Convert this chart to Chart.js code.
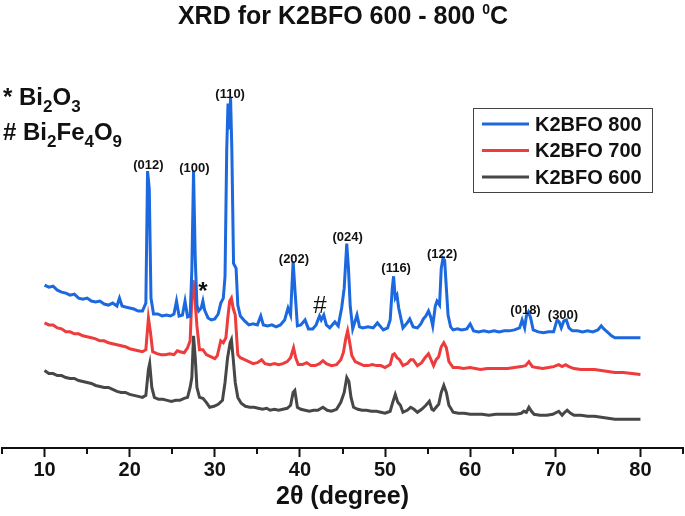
<!DOCTYPE html>
<html>
<head>
<meta charset="utf-8">
<script src="https://cdn.jsdelivr.net/npm/chart.js@4.4.1/dist/chart.umd.min.js"></script>
<style>
  html, body { margin: 0; padding: 0; background: #fff; }
  #wrap { width: 685px; height: 516px; }
</style>
</head>
<body>
<div id="wrap"><canvas id="xrdChart"></canvas></div>
<script>
// 2theta (deg), intensity (a.u., offset stacked)
const k2bfo800 = [
  [10.0,164],[10.5,162],[11.0,163],[11.5,159],[12.0,157],[12.5,156],[13.0,154],[13.5,155],[14.0,151],[14.5,150],
  [15.0,151],[15.5,148],[16.0,147],[16.5,148],[17.0,145],[17.5,144],[18.0,146],[18.5,143],[18.8,151],[19.1,143],
  [19.5,142],[20.0,141],[20.5,140],[21.0,138],[21.5,138],[21.9,146],[22.1,279],[22.3,261],[22.5,151],[22.8,135],
  [23.3,135],[23.8,133],[24.3,134],[24.8,133],[25.2,135],[25.5,148],[25.8,133],[26.2,134],[26.5,148],[26.8,132],
  [27.1,133],[27.3,179],[27.5,279],[27.7,191],[27.9,144],[28.1,138],[28.4,141],[28.6,148],[28.8,139],[29.2,131],
  [29.6,129],[30.0,130],[30.4,135],[30.7,146],[31.0,151],[31.2,173],[31.4,301],[31.55,347],[31.7,321],[31.85,353],
  [32.0,301],[32.2,186],[32.5,181],[32.7,144],[33.0,133],[33.5,128],[34.0,124],[34.5,125],[35.0,124],[35.4,133],
  [35.7,124],[36.2,123],[36.7,124],[37.2,122],[37.7,124],[38.2,129],[38.6,141],[38.9,134],[39.2,188],[39.4,161],
  [39.7,123],[40.1,124],[40.6,129],[41.0,120],[41.5,120],[41.9,124],[42.3,133],[42.5,129],[42.8,134],[43.1,124],
  [43.5,121],[44.1,127],[44.5,123],[44.9,141],[45.2,161],[45.5,206],[45.7,181],[45.9,144],[46.2,120],[46.7,134],
  [47.0,122],[47.4,121],[48.0,122],[48.6,121],[49.1,126],[49.5,122],[49.8,119],[50.3,121],[50.6,129],[50.85,161],
  [51.0,173],[51.2,151],[51.4,154],[51.6,141],[52.1,121],[52.6,126],[52.9,130],[53.3,122],[53.8,121],[54.2,125],
  [54.5,130],[54.8,133],[55.1,138],[55.4,131],[55.6,123],[55.9,143],[56.1,148],[56.4,144],[56.6,181],[56.8,191],
  [57.0,189],[57.2,161],[57.4,134],[57.7,122],[58.0,119],[58.5,120],[59.0,119],[59.6,120],[60.0,125],[60.4,118],
  [61.0,117],[61.6,118],[62.2,117],[62.8,118],[63.4,117],[64.0,118],[64.6,118],[65.2,119],[65.8,121],[66.1,129],
  [66.4,121],[66.6,133],[66.85,137],[67.1,131],[67.4,119],[68.0,117],[68.6,116],[69.2,117],[69.8,117],[70.2,129],
  [70.45,127],[70.7,121],[71.0,128],[71.3,129],[71.6,121],[72.0,118],[72.6,118],[73.2,117],[73.8,118],[74.4,117],
  [75.0,119],[75.4,123],[75.7,120],[76.1,117],[76.6,113],[77.0,111],[77.5,111],[78.5,111],[80.0,111]
];
const k2bfo700 = [
  [10.0,126],[10.5,124],[11.0,124],[11.5,121],[12.0,120],[12.5,117],[13.0,117],[13.5,115],[14.0,115],[14.5,113],
  [15.0,112],[15.5,111],[16.0,110],[16.5,108],[17.0,108],[17.5,106],[18.0,105],[18.5,104],[19.0,103],[19.5,102],
  [20.0,100],[20.5,99],[21.0,98],[21.5,97],[21.9,99],[22.2,131],[22.45,116],[22.7,97],[23.2,95],[23.7,94],
  [24.2,94],[24.7,95],[25.2,94],[25.6,98],[25.9,97],[26.4,96],[26.8,101],[27.1,108],[27.3,151],[27.45,169],
  [27.65,151],[27.9,123],[28.2,99],[28.6,99],[29.0,94],[29.5,92],[30.0,90],[30.3,93],[30.7,108],[31.0,106],
  [31.3,111],[31.55,133],[31.75,148],[31.95,151],[32.15,141],[32.4,134],[32.7,94],[33.0,91],[33.5,89],[34.0,87],
  [34.5,85],[35.0,86],[35.5,89],[35.9,85],[36.5,84],[37.0,85],[37.5,84],[38.0,85],[38.5,87],[38.9,91],
  [39.25,101],[39.5,91],[39.8,84],[40.3,84],[40.8,86],[41.3,83],[41.8,83],[42.3,85],[42.7,88],[43.1,85],
  [43.7,83],[44.3,84],[44.8,89],[45.1,96],[45.4,111],[45.6,118],[45.85,106],[46.1,93],[46.5,87],[47.0,85],
  [47.5,83],[48.0,83],[48.5,84],[49.0,83],[49.5,83],[50.0,81],[50.6,84],[50.9,94],[51.1,95],[51.4,91],
  [51.7,89],[52.1,83],[52.6,85],[53.0,89],[53.3,89],[53.8,83],[54.3,86],[54.7,91],[55.1,95],[55.5,87],
  [55.7,83],[56.0,89],[56.3,92],[56.6,102],[56.9,106],[57.2,101],[57.5,87],[58.0,81],[58.6,81],[59.2,80],
  [60.0,81],[60.6,80],[61.2,79],[62.0,80],[62.8,80],[63.6,80],[64.4,80],[65.2,81],[66.0,82],[66.5,83],
  [66.9,87],[67.3,82],[67.8,81],[68.5,80],[69.2,81],[69.8,82],[70.4,84],[70.8,82],[71.2,84],[71.6,82],
  [72.2,80],[73.0,79],[73.8,79],[74.6,79],[75.4,78],[76.2,77],[77.0,76],[78.0,76],[79.0,75],[80.0,74]
];
const k2bfo600 = [
  [10.0,78],[10.5,75],[11.0,75],[11.5,73],[12.0,73],[12.5,71],[13.0,70],[13.5,70],[14.0,68],[14.5,67],
  [15.0,66],[15.5,65],[16.0,63],[16.5,62],[17.0,61],[17.5,61],[18.0,59],[18.5,57],[19.0,56],[19.5,56],
  [20.0,54],[20.5,53],[21.0,52],[21.5,51],[21.9,53],[22.2,79],[22.35,85],[22.6,61],[22.9,51],[23.4,49],
  [23.9,49],[24.4,48],[24.9,47],[25.4,48],[25.9,48],[26.4,50],[26.8,51],[27.1,61],[27.3,71],[27.5,113],
  [27.7,91],[27.9,61],[28.2,51],[28.6,50],[29.0,46],[29.4,41],[29.9,42],[30.4,44],[30.9,48],[31.2,66],
  [31.5,91],[31.8,106],[31.95,109],[32.15,91],[32.4,66],[32.7,51],[33.1,45],[33.6,42],[34.1,41],[34.6,41],
  [35.1,40],[35.6,39],[36.1,40],[36.5,38],[37.0,39],[37.5,38],[38.0,39],[38.5,40],[38.9,43],[39.2,56],
  [39.4,58],[39.7,41],[40.1,39],[40.6,38],[41.1,37],[41.6,38],[42.1,38],[42.7,41],[43.2,38],[43.7,37],
  [44.3,39],[44.8,46],[45.2,56],[45.5,71],[45.75,67],[46.0,51],[46.3,41],[46.8,39],[47.3,38],[47.8,38],
  [48.4,37],[49.0,37],[49.5,36],[50.0,35],[50.6,37],[50.9,46],[51.2,54],[51.5,46],[51.8,43],[52.1,36],
  [52.6,38],[53.0,41],[53.4,39],[53.8,36],[54.3,39],[54.8,43],[55.2,47],[55.5,39],[55.7,38],[56.0,41],
  [56.3,44],[56.6,56],[56.9,63],[57.2,56],[57.5,43],[58.0,36],[58.6,35],[59.3,35],[60.0,34],[60.7,34],
  [61.4,34],[62.2,33],[63.0,34],[63.8,34],[64.6,34],[65.4,34],[66.0,35],[66.3,37],[66.6,36],[66.9,41],
  [67.2,37],[67.5,34],[68.2,33],[69.0,33],[69.7,34],[70.4,37],[70.8,33],[71.1,36],[71.4,38],[71.8,35],
  [72.2,33],[73.0,33],[73.8,32],[74.6,32],[75.4,31],[76.2,30],[77.0,29],[78.0,29],[80.0,29]
];

const seriesNames = ["K2BFO 800", "K2BFO 700", "K2BFO 600"];
const seriesColors = ["#1c68df", "#ee3b3b", "#474747"];

const xTicks = [10, 20, 30, 40, 50, 60, 70, 80];
const xMinorTicks = [5, 15, 25, 35, 45, 55, 65, 75, 85];

// peak indexing labels: 2theta, intensity of label centre
const peakNames = ["(012)", "(100)", "(110)", "(202)", "(024)", "(116)", "(122)", "(018)", "(300)"];
const peakTheta = [22.2, 27.6, 31.8, 39.3, 45.6, 51.3, 56.7, 66.5, 70.9];
const peakLabelY = [285, 282, 356, 190, 212, 181, 195, 139, 134];

const impurityMarks = ["*", "#"];
const impurityTheta = [28.6, 42.35];
const impurityY = [157, 143];

const FONT = "'Liberation Sans', Arial, sans-serif";

function drawRich(ctx, x, y, parts, size) {
  parts.forEach((p) => {
    const s = p.sub ? Math.round(size * 0.7) : size;
    ctx.font = "bold " + s + "px " + FONT;
    const dy = p.sub ? size * 0.3 : 0;
    ctx.fillText(p.t, x, y + dy);
    x += ctx.measureText(p.t).width;
  });
}

const extrasPlugin = {
  id: "extras",
  afterDraw(chart) {
    const ctx = chart.ctx;
    const xs = chart.scales.x;
    const ys = chart.scales.y;
    ctx.save();
    ctx.fillStyle = "#111";
    ctx.textBaseline = "alphabetic";
    ctx.textAlign = "left";

    // title with superscript degree
    const main = "XRD for K2BFO 600 - 800 ";
    ctx.font = "bold 25px " + FONT;
    let w = ctx.measureText(main + "C").width;
    ctx.font = "bold 14px " + FONT;
    w += ctx.measureText("0").width;
    let tx = 343 - w / 2;
    ctx.font = "bold 25px " + FONT;
    ctx.fillText(main, tx, 24);
    tx += ctx.measureText(main).width;
    ctx.font = "bold 14px " + FONT;
    ctx.fillText("0", tx, 14);
    tx += ctx.measureText("0").width;
    ctx.font = "bold 25px " + FONT;
    ctx.fillText("C", tx, 24);

    // phase key, top left
    drawRich(ctx, 3, 105, [{ t: "* Bi" }, { t: "2", sub: true }, { t: "O" }, { t: "3", sub: true }], 24);
    drawRich(ctx, 3, 140, [{ t: "# Bi" }, { t: "2", sub: true }, { t: "Fe" }, { t: "4", sub: true }, { t: "O" }, { t: "9", sub: true }], 24);

    // peak labels
    ctx.textAlign = "center";
    ctx.textBaseline = "middle";
    ctx.font = "bold 13px " + FONT;
    peakNames.forEach((n, i) => {
      ctx.fillText(n, xs.getPixelForValue(peakTheta[i]), ys.getPixelForValue(peakLabelY[i]));
    });
    ctx.font = "bold 24px " + FONT;
    ctx.fillText(impurityMarks[0], xs.getPixelForValue(impurityTheta[0]), ys.getPixelForValue(impurityY[0]));
    ctx.font = "24px " + FONT;
    ctx.fillText(impurityMarks[1], xs.getPixelForValue(impurityTheta[1]), ys.getPixelForValue(impurityY[1]));

    // minor ticks on x axis
    ctx.strokeStyle = "#111";
    ctx.lineWidth = 2;
    const base = chart.chartArea.bottom;
    xMinorTicks.forEach((v) => {
      const px = Math.round(xs.getPixelForValue(v));
      ctx.beginPath();
      ctx.moveTo(px, base);
      ctx.lineTo(px, base + 6);
      ctx.stroke();
    });

    // legend box
    const lx = 473, ly = 108, lw = 179, lh = 84;
    ctx.lineWidth = 1;
    ctx.strokeStyle = "#444";
    ctx.strokeRect(lx + 0.5, ly + 0.5, lw, lh);
    ctx.textAlign = "left";
    ctx.font = "bold 20px " + FONT;
    chart.data.datasets.forEach((ds, i) => {
      const ry = ly + 16 + i * 26.5;
      ctx.strokeStyle = ds.borderColor;
      ctx.lineWidth = 3;
      ctx.beginPath();
      ctx.moveTo(lx + 9, ry);
      ctx.lineTo(lx + 56, ry);
      ctx.stroke();
      ctx.fillStyle = "#111";
      ctx.fillText(ds.label, lx + 62, ry + 1);
    });
    ctx.restore();
  },
};

const toPoints = (arr) => arr.map((p) => ({ x: p[0], y: p[1] }));

const ctx = document.getElementById("xrdChart").getContext("2d");
new Chart(ctx, {
  type: "line",
  data: {
    datasets: [k2bfo800, k2bfo700, k2bfo600].map((s, i) => ({
      label: seriesNames[i],
      data: toPoints(s),
      borderColor: seriesColors[i],
      borderWidth: 3,
      pointRadius: 0,
      tension: 0,
      fill: false,
    })),
  },
  options: {
    responsive: true,
    maintainAspectRatio: false,
    animation: false,
    layout: { padding: { top: 40, left: 2, right: 2, bottom: 0 } },
    plugins: {
      legend: { display: false },
      title: { display: false },
      tooltip: { enabled: false },
    },
    scales: {
      x: {
        type: "linear",
        min: 5,
        max: 85,
        afterBuildTicks: (axis) => {
          axis.ticks = xTicks.map((v) => ({ value: v }));
        },
        border: { display: true, color: "#111", width: 2 },
        grid: { display: true, drawOnChartArea: false, drawTicks: true, tickLength: 9, tickWidth: 2, tickColor: "#111" },
        ticks: { color: "#111", font: { family: FONT, size: 20, weight: "bold", lineHeight: 1 }, padding: 3, maxRotation: 0 },
        title: {
          display: true,
          text: "2θ (degree)",
          color: "#111",
          font: { family: FONT, size: 25, weight: "bold", lineHeight: 1 },
          padding: { top: 2, bottom: 6 },
        },
      },
      y: {
        display: false,
        min: 0,
        max: 411,
      },
    },
  },
  plugins: [extrasPlugin],
});
</script>
</body>
</html>
